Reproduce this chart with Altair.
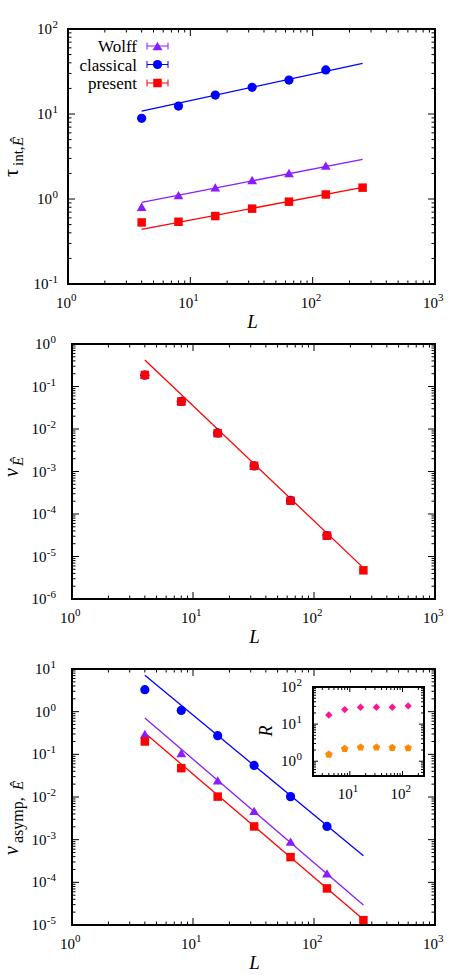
import altair as alt
import pandas as pd

# ---------------- data ----------------
L = [4, 8, 16, 32, 64, 128, 256]
L_fit = [4, 256]
series_names = ["Wolff", "classical", "present"]

# panel 1: tau_int
tau_wolff = [0.81, 1.11, 1.37, 1.67, 2.02, 2.47]
tau_classical = [8.9, 12.4, 16.7, 20.6, 25.1, 33.0]
tau_present = [0.53, 0.54, 0.63, 0.77, 0.93, 1.13, 1.36]
tau_wolff_fit = [0.91, 2.93]
tau_classical_fit = [10.8, 39.5]
tau_present_fit = [0.44, 1.37]

# panel 2: v
v_wolff = [0.192, 0.0460, 0.0084, 0.00141, 2.16e-4, 3.22e-5]
v_classical = [0.185, 0.0445, 0.0081, 0.00135, 2.08e-4, 3.12e-5]
v_present = [0.187, 0.0442, 0.00796, 0.00136, 2.05e-4, 3.09e-5, 4.73e-6]
v_present_fit = [0.42, 5.4e-6]

# panel 3: v_asymp
va_wolff = [0.30, 0.107, 0.0245, 0.00473, 9.0e-4, 1.62e-4]
va_classical = [3.27, 1.07, 0.273, 0.055, 0.0102, 0.00204]
va_present = [0.20, 0.0474, 0.0102, 0.00204, 3.9e-4, 7.2e-5, 1.3e-5]
va_wolff_fit = [0.71, 2.95e-5]
va_classical_fit = [7.1, 4.2e-4]
va_present_fit = [0.315, 1.35e-5]

# inset: R
L_inset = [4, 8, 16, 32, 64, 128]
R_pink = [17.6, 24.6, 28.5, 28.5, 28.5, 31.0]
R_orange = [1.52, 2.17, 2.36, 2.36, 2.31, 2.26]

# tick label exponents
x_exps = [0, 1, 2, 3]
y1_exps = [-1, 0, 1, 2]
y2_exps = [-6, -5, -4, -3, -2, -1, 0]
y3_exps = [-5, -4, -3, -2, -1, 0, 1]
inset_x_exps = [1, 2]
inset_y_exps = [0, 1, 2]

# ---------------- style ----------------
FONT = "Liberation Serif"
VIOLET = "#8a1cff"
BLUE = "#0000ff"
RED = "#ff0000"
PINK = "#ff1493"
ORANGE = "#ff8c00"
PENTAGON = "M0,-1L0.951,-0.309L0.588,0.809L-0.588,0.809L-0.951,-0.309Z"
SHAPE = {"Wolff": "triangle-up", "classical": "circle", "present": "square"}
SIZE = {"Wolff": 95, "classical": 85, "present": 72}
COLOR = {"Wolff": VIOLET, "classical": BLUE, "present": RED}


def lscale(dom, rng):
    return alt.Scale(type="log", domain=dom, range=rng, nice=False)


def minor_ticks(lo, hi, exps_lo, exps_hi):
    out = []
    for k in range(exps_lo, exps_hi + 1):
        for m in range(2, 10):
            v = m * 10.0 ** k
            if lo < v < hi:
                out.append(v)
    return out


def tick_layers(xs, ys, box, xmaj, xmin, ymaj, ymin, lmaj, lmin):
    px0, px1, py0, py1 = box
    layers = []
    for vals, ln in ((xmaj, lmaj), (xmin, lmin)):
        base = alt.Chart(pd.DataFrame({"v": vals})).mark_rule(color="black", strokeWidth=1)
        layers.append(base.encode(x=alt.X("v:Q", scale=xs, axis=None),
                                  y=alt.value(py1), y2=alt.value(py1 - ln)))
        layers.append(base.encode(x=alt.X("v:Q", scale=xs, axis=None),
                                  y=alt.value(py0), y2=alt.value(py0 + ln)))
    for vals, ln in ((ymaj, lmaj), (ymin, lmin)):
        base = alt.Chart(pd.DataFrame({"v": vals})).mark_rule(color="black", strokeWidth=1)
        layers.append(base.encode(y=alt.Y("v:Q", scale=ys, axis=None),
                                  x=alt.value(px0), x2=alt.value(px0 + ln)))
        layers.append(base.encode(y=alt.Y("v:Q", scale=ys, axis=None),
                                  x=alt.value(px1), x2=alt.value(px1 - ln)))
    return layers


def frame(box, width=2):
    px0, px1, py0, py1 = box
    return alt.Chart(pd.DataFrame({"a": [0]})).mark_rect(
        fillOpacity=0, stroke="black", strokeWidth=width
    ).encode(x=alt.value(px0), x2=alt.value(px1), y=alt.value(py0), y2=alt.value(py1))


def xlabels(xs, exps, base_y, fs=15, efs=11):
    d = pd.DataFrame({"v": [10.0 ** e for e in exps], "es": [str(e) for e in exps]})
    c = alt.Chart(d)
    a = c.mark_text(align="right", baseline="alphabetic", font=FONT, fontSize=fs,
                    dx=3, color="black").encode(
        x=alt.X("v:Q", scale=xs, axis=None), y=alt.value(base_y), text=alt.value("10"))
    b = c.mark_text(align="left", baseline="alphabetic", font=FONT, fontSize=efs,
                    dx=3, color="black").encode(
        x=alt.X("v:Q", scale=xs, axis=None), y=alt.value(base_y - 7), text="es:N")
    return [a, b]


def ylabels(ys, exps, right_x, fs=15, efs=11):
    d = pd.DataFrame({"v": [10.0 ** e for e in exps], "e": exps,
                      "es": [str(e) for e in exps]})
    c = alt.Chart(d).transform_calculate(lx=f"{right_x} - (datum.e < 0 ? 9.5 : 6)")
    a = c.mark_text(align="right", baseline="alphabetic", font=FONT, fontSize=fs,
                    dy=5, color="black").encode(
        y=alt.Y("v:Q", scale=ys, axis=None), x=alt.X("lx:Q", scale=None),
        text=alt.value("10"))
    b = c.mark_text(align="right", baseline="alphabetic", font=FONT, fontSize=efs,
                    dy=-1, color="black").encode(
        y=alt.Y("v:Q", scale=ys, axis=None), x=alt.value(right_x), text="es:N")
    return [a, b]


def txt(s, x, y, size, angle=0, italic=False, align="left", baseline="alphabetic"):
    kw = dict(align=align, baseline=baseline, font=FONT, fontSize=size,
              color="black", angle=angle)
    if italic:
        kw["fontStyle"] = "italic"
    return alt.Chart(pd.DataFrame({"t": [s]})).mark_text(**kw).encode(
        x=alt.value(x), y=alt.value(y), text="t:N")


def points(xs, ys, xvals, yvals, shape, size, color):
    d = pd.DataFrame({"L": xvals[:len(yvals)], "v": yvals})
    return alt.Chart(d).mark_point(filled=True, shape=shape, size=size,
                                   color=color, opacity=1).encode(
        x=alt.X("L:Q", scale=xs, axis=None), y=alt.Y("v:Q", scale=ys, axis=None))


def fitline(xs, ys, yvals, color):
    d = pd.DataFrame({"L": L_fit, "v": yvals})
    return alt.Chart(d).mark_line(color=color, strokeWidth=1.3).encode(
        x=alt.X("L:Q", scale=xs, axis=None), y=alt.Y("v:Q", scale=ys, axis=None))


X_MAJ = [10.0 ** e for e in x_exps]
X_MIN = minor_ticks(1, 1000, 0, 2)


def main_panel(box, ydom, y_exps, label_right):
    px0, px1, py0, py1 = box
    xs = lscale([1, 1000], [px0, px1])
    ys = lscale(ydom, [py1, py0])
    lo_e, hi_e = y_exps[0], y_exps[-1]
    ymaj = [10.0 ** e for e in y_exps]
    ymin = minor_ticks(ydom[0], ydom[1], lo_e, hi_e - 1)
    layers = tick_layers(xs, ys, box, X_MAJ, X_MIN, ymaj, ymin, 7, 3.5)
    layers += xlabels(xs, x_exps, py1 + 24)
    layers += ylabels(ys, y_exps, label_right)
    layers.append(txt("L", (px0 + px1) / 2 + 1, py1 + 44, 19, italic=True, align="center"))
    return xs, ys, layers


# ---------------- panel 1 ----------------
B1 = (68, 435, 29, 284)
xs1, ys1, lay1 = main_panel(B1, [0.1, 100], y1_exps, 58)
lay1 += [
    fitline(xs1, ys1, tau_classical_fit, BLUE),
    fitline(xs1, ys1, tau_wolff_fit, VIOLET),
    fitline(xs1, ys1, tau_present_fit, RED),
    points(xs1, ys1, L, tau_classical, SHAPE["classical"], SIZE["classical"], BLUE),
    points(xs1, ys1, L, tau_wolff, SHAPE["Wolff"], SIZE["Wolff"], VIOLET),
    points(xs1, ys1, L, tau_present, SHAPE["present"], SIZE["present"], RED),
    txt("τ", 18, 177, 20, angle=270),
    txt("int,", 23, 166, 15, angle=270),
    txt("Ê", 23, 146, 15, angle=270, italic=True),
]
for i, name in enumerate(series_names):
    yy = 46 + 18.5 * i
    col = COLOR[name]
    c = alt.Chart(pd.DataFrame({"name": [name]}))
    lay1 += [
        c.mark_text(align="right", baseline="middle", font=FONT, fontSize=17,
                    color="black").encode(x=alt.value(137), y=alt.value(yy + 1), text="name:N"),
        c.mark_rule(color=col, strokeWidth=1).encode(
            x=alt.value(147), x2=alt.value(168), y=alt.value(yy)),
        c.mark_rule(color=col, strokeWidth=1).encode(
            x=alt.value(147), y=alt.value(yy - 3.5), y2=alt.value(yy + 3.5)),
        c.mark_rule(color=col, strokeWidth=1).encode(
            x=alt.value(168), y=alt.value(yy - 3.5), y2=alt.value(yy + 3.5)),
        c.mark_point(filled=True, shape=SHAPE[name], size=SIZE[name], color=col,
                     opacity=1).encode(x=alt.value(157.5), y=alt.value(yy)),
    ]
lay1.append(frame(B1))
p1 = alt.layer(*lay1)

# ---------------- panel 2 ----------------
B2 = (72, 435, 344, 599)
xs2, ys2, lay2 = main_panel(B2, [1e-6, 1], y2_exps, 56)
lay2 += [
    fitline(xs2, ys2, v_present_fit, RED),
    points(xs2, ys2, L, v_wolff, SHAPE["Wolff"], SIZE["Wolff"], VIOLET),
    points(xs2, ys2, L, v_classical, SHAPE["classical"], SIZE["classical"], BLUE),
    points(xs2, ys2, L, v_present, SHAPE["present"], SIZE["present"], RED),
    txt("v", 18, 477, 20, angle=270, italic=True),
    txt("Ê", 23, 466, 15, angle=270, italic=True),
    frame(B2),
]
p2 = alt.layer(*lay2)

# ---------------- panel 3 ----------------
B3 = (72, 435, 669, 925)
xs3, ys3, lay3 = main_panel(B3, [1e-5, 10], y3_exps, 56)
lay3 += [
    fitline(xs3, ys3, va_classical_fit, BLUE),
    fitline(xs3, ys3, va_wolff_fit, VIOLET),
    fitline(xs3, ys3, va_present_fit, RED),
    points(xs3, ys3, L, va_classical, SHAPE["classical"], SIZE["classical"], BLUE),
    points(xs3, ys3, L, va_wolff, SHAPE["Wolff"], SIZE["Wolff"], VIOLET),
    points(xs3, ys3, L, va_present, SHAPE["present"], SIZE["present"], RED),
    txt("v", 18, 855, 20, angle=270, italic=True),
    txt("asymp,", 23, 843, 16, angle=270),
    txt("Ê", 23, 790, 15, angle=270, italic=True),
    frame(B3),
]
p3 = alt.layer(*lay3)

# ---------------- inset ----------------
BI = (313, 424, 687, 776)
xsi = lscale([2, 256], [BI[0], BI[1]])
ysi = lscale([0.4, 100], [BI[3], BI[2]])
lay_i = tick_layers(
    xsi, ysi, BI,
    [10.0 ** e for e in inset_x_exps], minor_ticks(2, 256, 0, 2),
    [10.0 ** e for e in inset_y_exps], minor_ticks(0.4, 100, -1, 1),
    5, 3,
)
lay_i += xlabels(xsi, inset_x_exps, 799)
lay_i += ylabels(ysi, inset_y_exps, 302)
lay_i += [
    points(xsi, ysi, L_inset, R_pink, "diamond", 55, PINK),
    points(xsi, ysi, L_inset, R_orange, PENTAGON, 62, ORANGE),
    txt("R", 272, 731, 18, angle=270, italic=True, align="center"),
    frame(BI),
]
pi = alt.layer(*lay_i)

chart = alt.layer(p1, p2, p3, pi).resolve_scale(
    x="independent", y="independent"
).properties(
    width=465, height=975, padding=0,
    autosize=alt.AutoSizeParams(type="none"),
).configure_view(strokeWidth=0)

chart.save("out.html", embed_options={"renderer": "svg", "actions": False})
